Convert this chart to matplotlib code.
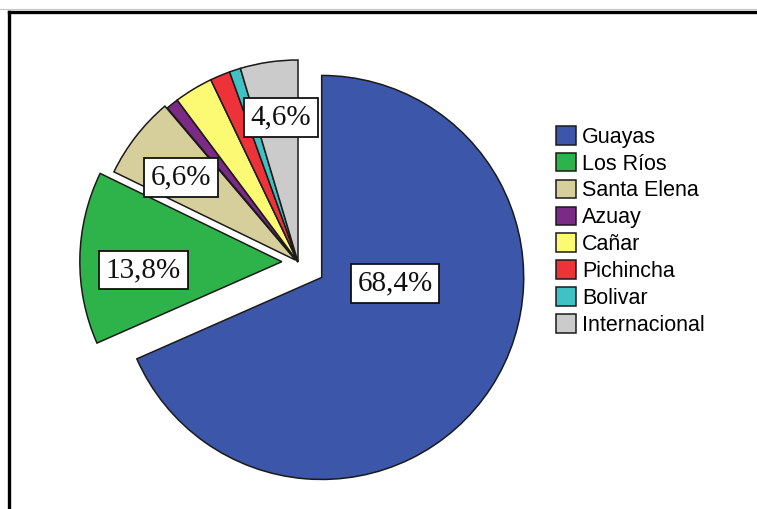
import matplotlib
matplotlib.use("Agg")
import matplotlib.pyplot as plt
from matplotlib.lines import Line2D

# data (percent of total)
provincias = ["Guayas", "Los Ríos", "Santa Elena", "Azuay", "Cañar",
              "Pichincha", "Bolivar", "Internacional"]
porcentajes = [68.4, 13.8, 6.6, 1.0, 3.1, 1.6, 0.9, 4.6]
colores = ["#3c56a9", "#2db34a", "#d6cf9b", "#7b2a85", "#fbfa72",
           "#ee3239", "#3fc1c6", "#cbcbcb"]
explode = [0.14, 0.08, 0.015, 0, 0, 0, 0, 0]

# which slices carry a value box, and where (data units, pie radius = 1)
etiquetadas = [0, 1, 2, 7]
pos_etiquetas = [(0.48, -0.105), (-0.765, -0.04), (-0.58, 0.42), (-0.085, 0.715)]

W, H = 757, 509
R_PX = 202          # pie radius in pixels
OX, OY = 298, 262   # pie origin in pixels (from top-left)

fig = plt.figure(figsize=(W / 100, H / 100), dpi=100)
ax = fig.add_axes([0, 0, 1, 1])

wedges, _ = ax.pie(porcentajes, colors=colores, explode=explode,
                   startangle=90, counterclock=False, radius=1.0,
                   wedgeprops=dict(edgecolor="#1a1a1a", linewidth=1.1))

# pie() resets the limits, so place the pie afterwards
ax.set_xlim(-OX / R_PX, (W - OX) / R_PX)
ax.set_ylim(-(H - OY) / R_PX, OY / R_PX)
ax.set_aspect("auto")
ax.axis("off")

for i, (x, y) in zip(etiquetadas, pos_etiquetas):
    txt = f"{porcentajes[i]:.1f}%".replace(".", ",")
    ax.text(x, y, txt, ha="center", va="center", fontsize=21,
            family="Liberation Serif", color="#111111",
            bbox=dict(boxstyle="square,pad=0.22", fc="white", ec="#111111", lw=1.3))

fig.legend(wedges, provincias, loc="upper left",
           bbox_to_anchor=(556 / W, 1 - 126 / H), frameon=False,
           prop=dict(family="Liberation Sans", size=15.5),
           borderpad=0, borderaxespad=0, handlelength=0.95, handleheight=0.95,
           handletextpad=0.25, labelspacing=0.24)

# outer frame of the exported chart
fig.add_artist(Line2D([0, 1], [1 - 9 / H, 1 - 9 / H], transform=fig.transFigure,
                      color="#c8c8c8", lw=0.8))
fig.add_artist(Line2D([9 / W, 9 / W], [0, 1 - 12 / H], transform=fig.transFigure,
                      color="black", lw=2.4))
fig.add_artist(Line2D([9 / W, 1], [1 - 12 / H, 1 - 12 / H], transform=fig.transFigure,
                      color="black", lw=2.4))

fig.savefig("out.png", dpi=100)
